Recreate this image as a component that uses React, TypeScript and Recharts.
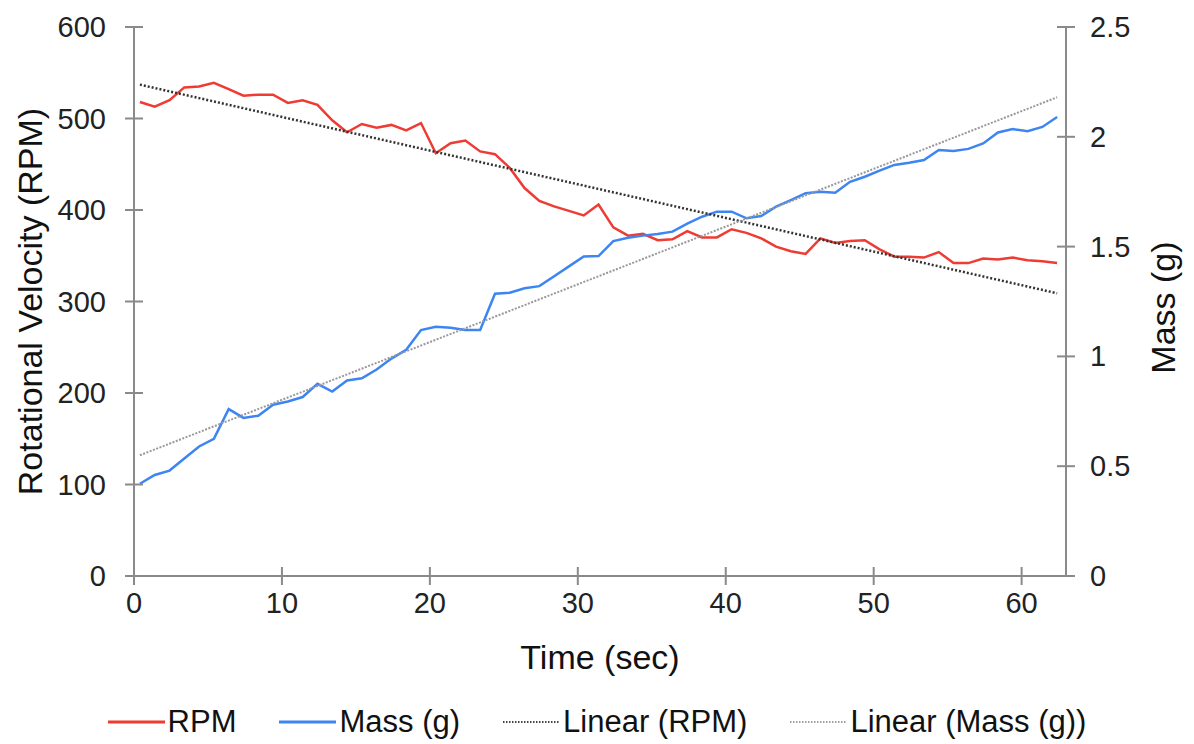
import { Label, Legend, Line, LineChart, XAxis, YAxis } from "recharts";

const TIME = [
  0.4, 1.4, 2.4, 3.4, 4.4, 5.4, 6.4, 7.4, 8.4, 9.4, 10.4, 11.4, 12.4, 13.4, 14.4, 15.4,
  16.4, 17.4, 18.4, 19.4, 20.4, 21.4, 22.4, 23.4, 24.4, 25.4, 26.4, 27.4, 28.4, 29.4,
  30.4, 31.4, 32.4, 33.4, 34.4, 35.4, 36.4, 37.4, 38.4, 39.4, 40.4, 41.4, 42.4, 43.4,
  44.4, 45.4, 46.4, 47.4, 48.4, 49.4, 50.4, 51.4, 52.4, 53.4, 54.4, 55.4, 56.4, 57.4,
  58.4, 59.4, 60.4, 61.4, 62.4,
];

const RPM = [
  518, 513, 520, 534, 535, 539, 532, 525, 526, 526, 517, 520, 515, 498, 485, 494,
  490, 493, 487, 495, 462, 473, 476, 464, 461, 446, 424, 410, 404, 399,
  394, 406, 381, 372, 374, 367, 368, 377, 370, 370, 379, 375, 369, 360,
  355, 352, 369, 364, 366, 367, 357, 349, 349, 348, 354, 342, 342, 347,
  346, 348, 345, 344, 342,
];

const MASS = [
  0.42, 0.46, 0.48, 0.535, 0.59, 0.625, 0.76, 0.72, 0.73, 0.78, 0.795, 0.815, 0.875, 0.84,
  0.89, 0.9, 0.94, 0.99, 1.03, 1.12, 1.135, 1.13, 1.12, 1.12, 1.285, 1.29, 1.31, 1.32,
  1.365, 1.41, 1.455, 1.457, 1.525, 1.54, 1.55, 1.557, 1.568, 1.605, 1.636, 1.659, 1.659,
  1.629, 1.639, 1.682, 1.712, 1.743, 1.75, 1.745, 1.795, 1.818, 1.846, 1.872, 1.882,
  1.894, 1.94, 1.935, 1.945, 1.97, 2.02, 2.035, 2.025, 2.045, 2.09,
];

// trendline end points
const TREND_T = [0.4, 62.4];
const TREND_RPM = [537, 309];
const TREND_MASS = [0.55, 2.18];

const X_TICKS = [0, 10, 20, 30, 40, 50, 60];
const RPM_TICKS = [0, 100, 200, 300, 400, 500, 600];
const MASS_TICKS = [0, 0.5, 1, 1.5, 2, 2.5];

const RED = "#ee3b33";
const BLUE = "#3d85f3";
const AXIS = "#8a8a8a";
const FONT = '"Liberation Sans", Arial, sans-serif';

const rows = TIME.map((t, i) => ({ t, rpm: RPM[i], mass: MASS[i] }));
const trendRpm = TREND_T.map((t, i) => ({ t, v: TREND_RPM[i] }));
const trendMass = TREND_T.map((t, i) => ({ t, v: TREND_MASS[i] }));

function AxisTick(props: any) {
  const { x, y, payload, side } = props;
  const text = { fontSize: 29, fill: "#222", fontFamily: FONT };
  if (side === "bottom") {
    return (
      <g>
        <line x1={x} x2={x} y1={y - 9} y2={y + 9} stroke={AXIS} strokeWidth={2} />
        <text x={x} y={y + 27} textAnchor="middle" dominantBaseline="central" style={text}>
          {payload.value}
        </text>
      </g>
    );
  }
  return (
    <g>
      <line x1={x - 9} x2={x + 9} y1={y} y2={y} stroke={AXIS} strokeWidth={2} />
      <text
        x={side === "left" ? x - 28 : x + 24}
        y={y}
        textAnchor={side === "left" ? "end" : "start"}
        dominantBaseline="central"
        style={text}
      >
        {payload.value}
      </text>
    </g>
  );
}

const titleStyle = { fontSize: 34, fill: "#111", fontFamily: FONT };

const LEGEND = [
  { name: "RPM", color: RED, dash: undefined, width: 3 },
  { name: "Mass (g)", color: BLUE, dash: undefined, width: 3 },
  { name: "Linear (RPM)", color: "#444", dash: "1.5 1.5", width: 2 },
  { name: "Linear (Mass (g))", color: "#a0a0a0", dash: "1.5 1.5", width: 2 },
];

function LegendBox() {
  return (
    <div
      style={{
        display: "flex",
        justifyContent: "center",
        gap: 43,
        fontFamily: FONT,
        fontSize: 31,
        color: "#111",
      }}
    >
      {LEGEND.map((item) => (
        <div key={item.name} style={{ display: "flex", alignItems: "center", gap: 3 }}>
          <svg width={57} height={6}>
            <line
              x1={0}
              x2={57}
              y1={3}
              y2={3}
              stroke={item.color}
              strokeWidth={item.width}
              strokeDasharray={item.dash}
            />
          </svg>
          <span>{item.name}</span>
        </div>
      ))}
    </div>
  );
}

export default function App() {
  return (
    <div style={{ position: "absolute", left: 0, top: 0, background: "#fff" }}>
      <LineChart
        width={1194}
        height={744}
        data={rows}
        margin={{ top: 27, right: 127, bottom: 167, left: 133 }}
      >
        <XAxis
          type="number"
          dataKey="t"
          domain={[0, 63]}
          ticks={X_TICKS}
          height={1}
          tickSize={0}
          tickMargin={0}
          tickLine={false}
          stroke={AXIS}
          strokeWidth={2}
          tick={(p: any) => <AxisTick {...p} side="bottom" />}
        >
          <Label
            content={(p: any) => (
              <text
                x={p.viewBox.x + p.viewBox.width / 2}
                y={p.viewBox.y + 81}
                textAnchor="middle"
                dominantBaseline="central"
                style={titleStyle}
              >
                Time (sec)
              </text>
            )}
          />
        </XAxis>
        <YAxis
          yAxisId="rpm"
          domain={[0, 600]}
          ticks={RPM_TICKS}
          width={1}
          tickSize={0}
          tickMargin={0}
          tickLine={false}
          stroke={AXIS}
          strokeWidth={2}
          tick={(p: any) => <AxisTick {...p} side="left" />}
        >
          <Label
            content={(p: any) => {
              const cx = p.viewBox.x + p.viewBox.width - 104;
              const cy = p.viewBox.y + p.viewBox.height / 2;
              return (
                <text
                  x={cx}
                  y={cy}
                  transform={`rotate(-90 ${cx} ${cy})`}
                  textAnchor="middle"
                  dominantBaseline="central"
                  style={titleStyle}
                >
                  Rotational Velocity (RPM)
                </text>
              );
            }}
          />
        </YAxis>
        <YAxis
          yAxisId="mass"
          orientation="right"
          domain={[0, 2.5]}
          ticks={MASS_TICKS}
          width={1}
          tickSize={0}
          tickMargin={0}
          tickLine={false}
          stroke={AXIS}
          strokeWidth={2}
          tick={(p: any) => <AxisTick {...p} side="right" />}
        >
          <Label
            content={(p: any) => {
              const cx = p.viewBox.x + 97;
              const cy = p.viewBox.y + p.viewBox.height / 2 + 6;
              return (
                <text
                  x={cx}
                  y={cy}
                  transform={`rotate(-90 ${cx} ${cy})`}
                  textAnchor="middle"
                  dominantBaseline="central"
                  style={titleStyle}
                >
                  Mass (g)
                </text>
              );
            }}
          />
        </YAxis>
        <Line
          yAxisId="rpm"
          dataKey="rpm"
          stroke={RED}
          strokeWidth={2.5}
          dot={false}
          isAnimationActive={false}
        />
        <Line
          yAxisId="mass"
          dataKey="mass"
          stroke={BLUE}
          strokeWidth={2.5}
          dot={false}
          isAnimationActive={false}
        />
        <Line
          yAxisId="rpm"
          data={trendRpm}
          dataKey="v"
          stroke="#333"
          strokeWidth={2.5}
          strokeDasharray="2 2"
          dot={false}
          isAnimationActive={false}
        />
        <Line
          yAxisId="mass"
          data={trendMass}
          dataKey="v"
          stroke="#999"
          strokeWidth={2}
          strokeDasharray="2 1.5"
          dot={false}
          isAnimationActive={false}
        />
        <Legend
          layout="horizontal"
          verticalAlign="middle"
          content={() => <LegendBox />}
          wrapperStyle={{ top: 704, left: 0, width: 1194 }}
        />
      </LineChart>
    </div>
  );
}
